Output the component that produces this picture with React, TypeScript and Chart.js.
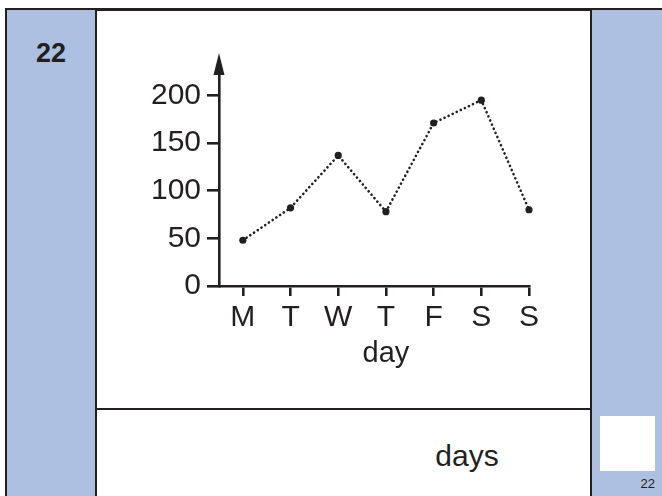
import React, { useEffect, useRef } from "react";
import { Chart, registerables } from "chart.js";

Chart.register(...registerables);

const days: string[] = ["M", "T", "W", "T", "F", "S", "S"];
const values: number[] = [48, 82, 137, 78, 171, 195, 80];
const yTicks: number[] = [0, 50, 100, 150, 200];
const axisTitle = "day";
const panelNumber = "22";
const answerLabel = "days";

const INK = "#231f20";
const BLUE = "#adc0e1";
const FONT = "'Liberation Sans', Arial, Helvetica, sans-serif";

const arrowPlugin = {
  id: "arrowAndTitle",
  afterDraw(chart: any) {
    const { ctx, chartArea, scales } = chart;
    const x = chartArea.left;
    const tip = chartArea.top - 9;
    const base = chartArea.top + 13;
    ctx.save();
    ctx.fillStyle = INK;
    ctx.strokeStyle = INK;
    ctx.lineWidth = 2.6;
    ctx.beginPath();
    ctx.moveTo(x, chartArea.top);
    ctx.lineTo(x, base);
    ctx.stroke();
    ctx.beginPath();
    ctx.moveTo(x, tip);
    ctx.lineTo(x - 5.5, base);
    ctx.lineTo(x + 5.5, base);
    ctx.closePath();
    ctx.fill();
    // axis title centred on the day ticks
    const cx = scales.x.getPixelForValue((days.length - 1) / 2);
    ctx.font = `29px ${FONT}`;
    ctx.textAlign = "center";
    ctx.textBaseline = "alphabetic";
    ctx.fillText(axisTitle, cx, 362);
    ctx.restore();
  },
};

function ChartCanvas() {
  const ref = useRef<HTMLCanvasElement | null>(null);
  useEffect(() => {
    if (!ref.current) return;
    const chart = new Chart(ref.current, {
      type: "line",
      data: {
        datasets: [
          {
            data: values.map((v, i) => ({ x: i, y: v })),
            borderColor: INK,
            borderWidth: 2.6,
            borderDash: [0.1, 4.4],
            borderCapStyle: "round",
            pointRadius: 3.6,
            pointBackgroundColor: INK,
            pointBorderWidth: 0,
            tension: 0,
            clip: false,
          },
        ],
      },
      options: {
        animation: false,
        responsive: false,
        devicePixelRatio: 1,
        layout: { padding: { left: 139, right: 133, top: 62, bottom: 130 } },
        plugins: { legend: { display: false }, tooltip: { enabled: false } },
        scales: {
          x: {
            type: "linear",
            min: -0.5,
            max: days.length - 1,
            afterBuildTicks: (s: any) => {
              s.ticks = days.map((_, i) => ({ value: i }));
            },
            afterFit: (s: any) => {
              s.height = 80;
            },
            border: { display: true, color: INK, width: 2.6 },
            grid: {
              drawOnChartArea: false,
              drawTicks: true,
              tickLength: 10,
              color: INK,
              lineWidth: 2.6,
            },
            ticks: {
              autoSkip: false,
              maxRotation: 0,
              padding: 4,
              color: INK,
              font: { family: FONT, size: 30 },
              callback: (v: any) => days[Math.round(Number(v))] ?? "",
            },
          },
          y: {
            type: "linear",
            min: 0,
            max: 235,
            afterBuildTicks: (s: any) => {
              s.ticks = yTicks.map((v) => ({ value: v }));
            },
            afterFit: (s: any) => {
              s.width = 80;
            },
            border: { display: true, color: INK, width: 2.6 },
            grid: {
              drawOnChartArea: false,
              drawTicks: true,
              tickLength: 12,
              color: INK,
              lineWidth: 2.6,
            },
            ticks: {
              padding: 6,
              color: INK,
              font: { family: FONT, size: 30 },
            },
          },
        },
      },
      plugins: [arrowPlugin],
    } as any);
    return () => chart.destroy();
  }, []);
  return (
    <canvas
      ref={ref}
      width={662}
      height={496}
      style={{ position: "absolute", left: 0, top: 0, width: 662, height: 496 }}
    />
  );
}

export default function App() {
  const line = INK;
  return (
    <div
      style={{
        position: "fixed",
        left: 0,
        top: 0,
        width: 662,
        height: 496,
        background: "#fff",
        overflow: "hidden",
        fontFamily: FONT,
        color: INK,
      }}
    >
      {/* left blue column */}
      <div style={{ position: "absolute", left: 5, top: 8, width: 92, height: 490, background: BLUE, borderLeft: `2.5px solid ${line}`, borderTop: `2.5px solid ${line}`, borderRight: `2.5px solid ${line}`, boxSizing: "border-box" }} />
      {/* top border of white panel */}
      <div style={{ position: "absolute", left: 95, top: 8, width: 500, height: 2.5, background: line }} />
      {/* right blue column */}
      <div style={{ position: "absolute", left: 590, top: 8, width: 80, height: 490, background: BLUE, borderLeft: `2.5px solid ${line}`, borderTop: `2.5px solid ${line}`, boxSizing: "border-box" }} />
      {/* horizontal divider */}
      <div style={{ position: "absolute", left: 96, top: 407.5, width: 496, height: 2.5, background: line }} />
      {/* white answer box */}
      <div style={{ position: "absolute", left: 600, top: 416, width: 55, height: 55, background: "#fff" }} />
      <div style={{ position: "absolute", left: 5, top: 37, width: 92, textAlign: "center", fontWeight: "bold", fontSize: 27, lineHeight: "32px" }}>{panelNumber}</div>
      <div style={{ position: "absolute", left: 96, top: 439, width: 742, textAlign: "center", fontSize: 30, lineHeight: "34px" }}>{answerLabel}</div>
      <div style={{ position: "absolute", left: 600, top: 476, width: 55, textAlign: "right", fontSize: 13, lineHeight: "16px" }}>{panelNumber}</div>
      <ChartCanvas />
    </div>
  );
}
